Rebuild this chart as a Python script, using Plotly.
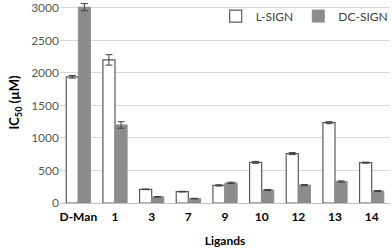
import plotly.graph_objects as go

categories = ["D-Man", "1", "3", "7", "9", "10", "12", "13", "14"]
l_sign = [1940, 2200, 210, 175, 270, 625, 760, 1235, 620]
l_sign_err = [20, 80, 5, 5, 10, 15, 15, 15, 8]
dc_sign = [3010, 1200, 95, 68, 310, 200, 275, 330, 185]
dc_sign_err = [55, 50, 5, 5, 10, 8, 8, 10, 8]
y_ticks = [0, 500, 1000, 1500, 2000, 2500, 3000]

FONT = "Lato"

fig = go.Figure()
fig.add_trace(go.Bar(
    name="L-SIGN", x=categories, y=l_sign, cliponaxis=False,
    marker=dict(color="white", line=dict(color="#595959", width=1.2)),
    error_y=dict(type="data", array=l_sign_err, color="#404040", thickness=1, width=3.5),
))
fig.add_trace(go.Bar(
    name="DC-SIGN", x=categories, y=dc_sign, cliponaxis=False,
    marker=dict(color="#8c8c8c", line=dict(color="#8c8c8c", width=1)),
    error_y=dict(type="data", array=dc_sign_err, color="#404040", thickness=1, width=3.5),
))

fig.update_layout(
    width=392, height=248,
    margin=dict(l=60, r=2, t=2, b=45, autoexpand=False),
    paper_bgcolor="white", plot_bgcolor="white",
    barmode="group", bargap=0.34, bargroupgap=0,
    font=dict(family=FONT, size=12, color="#595959"),
    legend=dict(orientation="h", x=0.74, y=0.93, xanchor="center", yanchor="middle",
                bgcolor="rgba(0,0,0,0)", font=dict(family=FONT, size=12, color="#404040"),
                itemwidth=30, tracegroupgap=0),
    showlegend=True,
)
fig.update_xaxes(
    type="category", automargin=False, ticklabelstandoff=3,
    tickfont=dict(family=FONT, size=12, color="black", weight="bold"),
    showline=True, linecolor="#bfbfbf", linewidth=1,
    showgrid=False, ticks="",
    title=dict(text="<b>Ligands</b>", font=dict(family=FONT, size=12, color="black"), standoff=14),
)
fig.update_yaxes(
    range=[0, 3090], tickvals=y_ticks, automargin=False, ticklabeloverflow="allow",
    showgrid=True, gridcolor="#d9d9d9", gridwidth=1,
    zeroline=False, showline=False, ticks="",
    tickfont=dict(family=FONT, size=12, color="#595959"),
    title=dict(text="<b>IC<sub>50</sub> (µM)</b>", font=dict(family=FONT, size=13, color="black"), standoff=8),
)

fig.write_html(
    "out.html",
    config={"displayModeBar": False},
    post_script="document.body.style.margin='0';document.body.style.overflow='hidden';",
)
